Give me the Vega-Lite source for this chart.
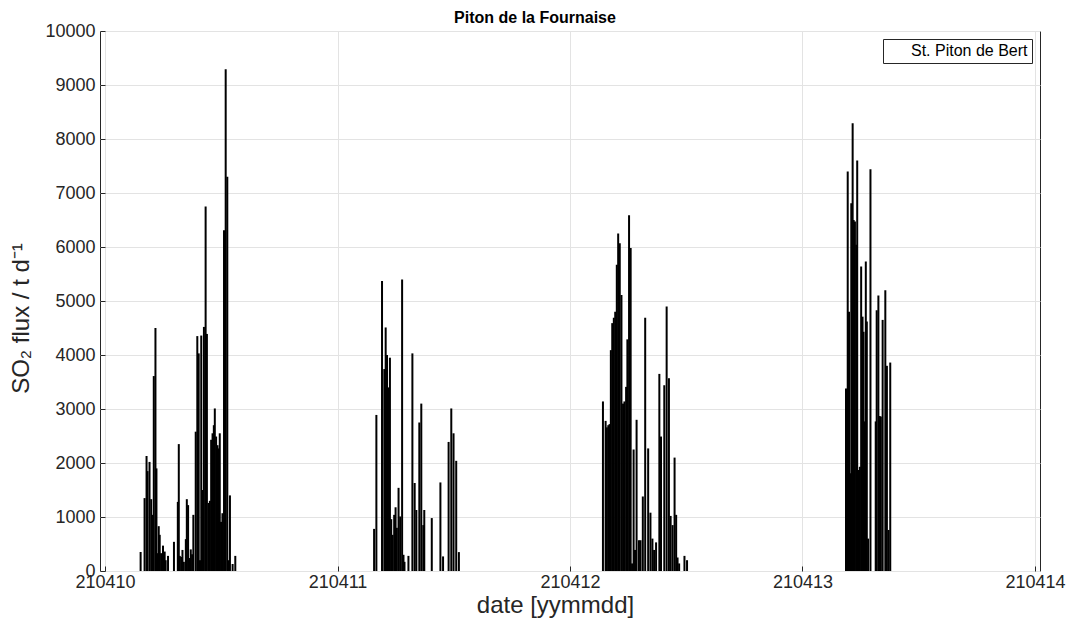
{
  "$schema": "https://vega.github.io/schema/vega-lite/v6.json",
  "width": 940,
  "height": 540,
  "autosize": "none",
  "padding": {"left": 100, "top": 31, "right": 32, "bottom": 52},
  "background": "white",
  "title": {"text": "Piton de la Fournaise", "fontSize": 16, "fontWeight": "bold", "font": "Liberation Sans", "color": "#000000", "offset": -4, "dx": -35},
  "config": {
    "view": {"stroke": "#262626", "strokeWidth": 1},
    "axis": {"labelFont": "Liberation Sans", "titleFont": "Liberation Sans", "labelColor": "#262626", "titleColor": "#262626", "gridColor": "#e3e3e3", "domain": false, "tickColor": "#262626", "titleFontWeight": "normal"}
  },
  "data": {"values": [
    {"date": 210410.1532, "flux": 352, "station": "St. Piton de Bert"},
    {"date": 210410.1702, "flux": 1350, "station": "St. Piton de Bert"},
    {"date": 210410.1787, "flux": 2130, "station": "St. Piton de Bert"},
    {"date": 210410.1830, "flux": 1850, "station": "St. Piton de Bert"},
    {"date": 210410.1915, "flux": 2020, "station": "St. Piton de Bert"},
    {"date": 210410.1987, "flux": 1330, "station": "St. Piton de Bert"},
    {"date": 210410.2043, "flux": 1040, "station": "St. Piton de Bert"},
    {"date": 210410.2098, "flux": 3610, "station": "St. Piton de Bert"},
    {"date": 210410.2170, "flux": 4500, "station": "St. Piton de Bert"},
    {"date": 210410.2213, "flux": 1900, "station": "St. Piton de Bert"},
    {"date": 210410.2255, "flux": 330, "station": "St. Piton de Bert"},
    {"date": 210410.2311, "flux": 830, "station": "St. Piton de Bert"},
    {"date": 210410.2353, "flux": 670, "station": "St. Piton de Bert"},
    {"date": 210410.2413, "flux": 330, "station": "St. Piton de Bert"},
    {"date": 210410.2494, "flux": 470, "station": "St. Piton de Bert"},
    {"date": 210410.2566, "flux": 360, "station": "St. Piton de Bert"},
    {"date": 210410.2609, "flux": 200, "station": "St. Piton de Bert"},
    {"date": 210410.2711, "flux": 280, "station": "St. Piton de Bert"},
    {"date": 210410.2966, "flux": 540, "station": "St. Piton de Bert"},
    {"date": 210410.3132, "flux": 1280, "station": "St. Piton de Bert"},
    {"date": 210410.3174, "flux": 2350, "station": "St. Piton de Bert"},
    {"date": 210410.3217, "flux": 280, "station": "St. Piton de Bert"},
    {"date": 210410.3277, "flux": 260, "station": "St. Piton de Bert"},
    {"date": 210410.3332, "flux": 390, "station": "St. Piton de Bert"},
    {"date": 210410.3391, "flux": 170, "station": "St. Piton de Bert"},
    {"date": 210410.3477, "flux": 590, "station": "St. Piton de Bert"},
    {"date": 210410.3519, "flux": 1330, "station": "St. Piton de Bert"},
    {"date": 210410.3574, "flux": 1220, "station": "St. Piton de Bert"},
    {"date": 210410.3630, "flux": 240, "station": "St. Piton de Bert"},
    {"date": 210410.3689, "flux": 400, "station": "St. Piton de Bert"},
    {"date": 210410.3745, "flux": 310, "station": "St. Piton de Bert"},
    {"date": 210410.3800, "flux": 1040, "station": "St. Piton de Bert"},
    {"date": 210410.3902, "flux": 2580, "station": "St. Piton de Bert"},
    {"date": 210410.3970, "flux": 4350, "station": "St. Piton de Bert"},
    {"date": 210410.4030, "flux": 4030, "station": "St. Piton de Bert"},
    {"date": 210410.4085, "flux": 200, "station": "St. Piton de Bert"},
    {"date": 210410.4140, "flux": 4360, "station": "St. Piton de Bert"},
    {"date": 210410.4213, "flux": 1500, "station": "St. Piton de Bert"},
    {"date": 210410.4255, "flux": 4520, "station": "St. Piton de Bert"},
    {"date": 210410.4328, "flux": 6750, "station": "St. Piton de Bert"},
    {"date": 210410.4383, "flux": 4390, "station": "St. Piton de Bert"},
    {"date": 210410.4455, "flux": 1260, "station": "St. Piton de Bert"},
    {"date": 210410.4511, "flux": 1300, "station": "St. Piton de Bert"},
    {"date": 210410.4566, "flux": 2430, "station": "St. Piton de Bert"},
    {"date": 210410.4626, "flux": 2550, "station": "St. Piton de Bert"},
    {"date": 210410.4681, "flux": 2700, "station": "St. Piton de Bert"},
    {"date": 210410.4723, "flux": 3010, "station": "St. Piton de Bert"},
    {"date": 210410.4779, "flux": 2490, "station": "St. Piton de Bert"},
    {"date": 210410.4838, "flux": 2330, "station": "St. Piton de Bert"},
    {"date": 210410.4881, "flux": 2270, "station": "St. Piton de Bert"},
    {"date": 210410.4936, "flux": 2550, "station": "St. Piton de Bert"},
    {"date": 210410.4991, "flux": 910, "station": "St. Piton de Bert"},
    {"date": 210410.5051, "flux": 1070, "station": "St. Piton de Bert"},
    {"date": 210410.5119, "flux": 6310, "station": "St. Piton de Bert"},
    {"date": 210410.5191, "flux": 9290, "station": "St. Piton de Bert"},
    {"date": 210410.5260, "flux": 7300, "station": "St. Piton de Bert"},
    {"date": 210410.5319, "flux": 200, "station": "St. Piton de Bert"},
    {"date": 210410.5374, "flux": 1400, "station": "St. Piton de Bert"},
    {"date": 210410.5489, "flux": 130, "station": "St. Piton de Bert"},
    {"date": 210410.5604, "flux": 280, "station": "St. Piton de Bert"},
    {"date": 210411.1574, "flux": 780, "station": "St. Piton de Bert"},
    {"date": 210411.1672, "flux": 2890, "station": "St. Piton de Bert"},
    {"date": 210411.1915, "flux": 5370, "station": "St. Piton de Bert"},
    {"date": 210411.2013, "flux": 3740, "station": "St. Piton de Bert"},
    {"date": 210411.2072, "flux": 4510, "station": "St. Piton de Bert"},
    {"date": 210411.2128, "flux": 4000, "station": "St. Piton de Bert"},
    {"date": 210411.2183, "flux": 3400, "station": "St. Piton de Bert"},
    {"date": 210411.2255, "flux": 3950, "station": "St. Piton de Bert"},
    {"date": 210411.2311, "flux": 960, "station": "St. Piton de Bert"},
    {"date": 210411.2370, "flux": 670, "station": "St. Piton de Bert"},
    {"date": 210411.2438, "flux": 1040, "station": "St. Piton de Bert"},
    {"date": 210411.2498, "flux": 1180, "station": "St. Piton de Bert"},
    {"date": 210411.2553, "flux": 800, "station": "St. Piton de Bert"},
    {"date": 210411.2626, "flux": 1540, "station": "St. Piton de Bert"},
    {"date": 210411.2694, "flux": 1010, "station": "St. Piton de Bert"},
    {"date": 210411.2779, "flux": 5400, "station": "St. Piton de Bert"},
    {"date": 210411.2838, "flux": 300, "station": "St. Piton de Bert"},
    {"date": 210411.2881, "flux": 170, "station": "St. Piton de Bert"},
    {"date": 210411.3051, "flux": 280, "station": "St. Piton de Bert"},
    {"date": 210411.3221, "flux": 4030, "station": "St. Piton de Bert"},
    {"date": 210411.3319, "flux": 1630, "station": "St. Piton de Bert"},
    {"date": 210411.3391, "flux": 1130, "station": "St. Piton de Bert"},
    {"date": 210411.3519, "flux": 2750, "station": "St. Piton de Bert"},
    {"date": 210411.3604, "flux": 3100, "station": "St. Piton de Bert"},
    {"date": 210411.3689, "flux": 850, "station": "St. Piton de Bert"},
    {"date": 210411.3732, "flux": 1130, "station": "St. Piton de Bert"},
    {"date": 210411.4055, "flux": 980, "station": "St. Piton de Bert"},
    {"date": 210411.4426, "flux": 1640, "station": "St. Piton de Bert"},
    {"date": 210411.4540, "flux": 270, "station": "St. Piton de Bert"},
    {"date": 210411.4779, "flux": 2390, "station": "St. Piton de Bert"},
    {"date": 210411.4894, "flux": 3010, "station": "St. Piton de Bert"},
    {"date": 210411.4991, "flux": 2550, "station": "St. Piton de Bert"},
    {"date": 210411.5106, "flux": 2040, "station": "St. Piton de Bert"},
    {"date": 210411.5221, "flux": 350, "station": "St. Piton de Bert"},
    {"date": 210412.1417, "flux": 3140, "station": "St. Piton de Bert"},
    {"date": 210412.1532, "flux": 2780, "station": "St. Piton de Bert"},
    {"date": 210412.1587, "flux": 2660, "station": "St. Piton de Bert"},
    {"date": 210412.1647, "flux": 2700, "station": "St. Piton de Bert"},
    {"date": 210412.1702, "flux": 2720, "station": "St. Piton de Bert"},
    {"date": 210412.1757, "flux": 4090, "station": "St. Piton de Bert"},
    {"date": 210412.1817, "flux": 4590, "station": "St. Piton de Bert"},
    {"date": 210412.1885, "flux": 4690, "station": "St. Piton de Bert"},
    {"date": 210412.1945, "flux": 4800, "station": "St. Piton de Bert"},
    {"date": 210412.2013, "flux": 5670, "station": "St. Piton de Bert"},
    {"date": 210412.2072, "flux": 6250, "station": "St. Piton de Bert"},
    {"date": 210412.2140, "flux": 6070, "station": "St. Piton de Bert"},
    {"date": 210412.2213, "flux": 5110, "station": "St. Piton de Bert"},
    {"date": 210412.2281, "flux": 3100, "station": "St. Piton de Bert"},
    {"date": 210412.2340, "flux": 3140, "station": "St. Piton de Bert"},
    {"date": 210412.2413, "flux": 3410, "station": "St. Piton de Bert"},
    {"date": 210412.2468, "flux": 4290, "station": "St. Piton de Bert"},
    {"date": 210412.2540, "flux": 6590, "station": "St. Piton de Bert"},
    {"date": 210412.2609, "flux": 5980, "station": "St. Piton de Bert"},
    {"date": 210412.2668, "flux": 140, "station": "St. Piton de Bert"},
    {"date": 210412.2736, "flux": 2250, "station": "St. Piton de Bert"},
    {"date": 210412.2796, "flux": 390, "station": "St. Piton de Bert"},
    {"date": 210412.2864, "flux": 2800, "station": "St. Piton de Bert"},
    {"date": 210412.2966, "flux": 570, "station": "St. Piton de Bert"},
    {"date": 210412.3034, "flux": 570, "station": "St. Piton de Bert"},
    {"date": 210412.3132, "flux": 1380, "station": "St. Piton de Bert"},
    {"date": 210412.3234, "flux": 4690, "station": "St. Piton de Bert"},
    {"date": 210412.3362, "flux": 2270, "station": "St. Piton de Bert"},
    {"date": 210412.3460, "flux": 1080, "station": "St. Piton de Bert"},
    {"date": 210412.3545, "flux": 600, "station": "St. Piton de Bert"},
    {"date": 210412.3617, "flux": 390, "station": "St. Piton de Bert"},
    {"date": 210412.3702, "flux": 530, "station": "St. Piton de Bert"},
    {"date": 210412.3843, "flux": 3650, "station": "St. Piton de Bert"},
    {"date": 210412.3915, "flux": 2490, "station": "St. Piton de Bert"},
    {"date": 210412.4055, "flux": 3440, "station": "St. Piton de Bert"},
    {"date": 210412.4157, "flux": 4900, "station": "St. Piton de Bert"},
    {"date": 210412.4255, "flux": 3570, "station": "St. Piton de Bert"},
    {"date": 210412.4328, "flux": 1020, "station": "St. Piton de Bert"},
    {"date": 210412.4413, "flux": 850, "station": "St. Piton de Bert"},
    {"date": 210412.4498, "flux": 2100, "station": "St. Piton de Bert"},
    {"date": 210412.4566, "flux": 1040, "station": "St. Piton de Bert"},
    {"date": 210412.4626, "flux": 250, "station": "St. Piton de Bert"},
    {"date": 210412.4694, "flux": 140, "station": "St. Piton de Bert"},
    {"date": 210412.4923, "flux": 280, "station": "St. Piton de Bert"},
    {"date": 210412.5034, "flux": 200, "station": "St. Piton de Bert"},
    {"date": 210413.1872, "flux": 3380, "station": "St. Piton de Bert"},
    {"date": 210413.1945, "flux": 7400, "station": "St. Piton de Bert"},
    {"date": 210413.2000, "flux": 4800, "station": "St. Piton de Bert"},
    {"date": 210413.2055, "flux": 1810, "station": "St. Piton de Bert"},
    {"date": 210413.2098, "flux": 6810, "station": "St. Piton de Bert"},
    {"date": 210413.2157, "flux": 8290, "station": "St. Piton de Bert"},
    {"date": 210413.2200, "flux": 6500, "station": "St. Piton de Bert"},
    {"date": 210413.2255, "flux": 6470, "station": "St. Piton de Bert"},
    {"date": 210413.2311, "flux": 6040, "station": "St. Piton de Bert"},
    {"date": 210413.2353, "flux": 7600, "station": "St. Piton de Bert"},
    {"date": 210413.2413, "flux": 1870, "station": "St. Piton de Bert"},
    {"date": 210413.2468, "flux": 1930, "station": "St. Piton de Bert"},
    {"date": 210413.2523, "flux": 5640, "station": "St. Piton de Bert"},
    {"date": 210413.2583, "flux": 4710, "station": "St. Piton de Bert"},
    {"date": 210413.2626, "flux": 4430, "station": "St. Piton de Bert"},
    {"date": 210413.2668, "flux": 2770, "station": "St. Piton de Bert"},
    {"date": 210413.2723, "flux": 5730, "station": "St. Piton de Bert"},
    {"date": 210413.2766, "flux": 4620, "station": "St. Piton de Bert"},
    {"date": 210413.2821, "flux": 600, "station": "St. Piton de Bert"},
    {"date": 210413.2923, "flux": 7440, "station": "St. Piton de Bert"},
    {"date": 210413.3149, "flux": 2770, "station": "St. Piton de Bert"},
    {"date": 210413.3191, "flux": 4830, "station": "St. Piton de Bert"},
    {"date": 210413.3264, "flux": 5100, "station": "St. Piton de Bert"},
    {"date": 210413.3319, "flux": 2870, "station": "St. Piton de Bert"},
    {"date": 210413.3370, "flux": 2860, "station": "St. Piton de Bert"},
    {"date": 210413.3447, "flux": 4650, "station": "St. Piton de Bert"},
    {"date": 210413.3562, "flux": 5200, "station": "St. Piton de Bert"},
    {"date": 210413.3630, "flux": 3800, "station": "St. Piton de Bert"},
    {"date": 210413.3702, "flux": 760, "station": "St. Piton de Bert"},
    {"date": 210413.3774, "flux": 3860, "station": "St. Piton de Bert"}
  ]},
  "mark": {"type": "bar", "size": 2},
  "encoding": {
    "x": {
      "field": "date", "type": "quantitative",
      "scale": {"domain": [210410, 210414], "nice": false, "zero": false},
      "axis": {"values": [210410, 210411, 210412, 210413, 210414], "format": "d", "title": "date [yymmdd]", "labelFontSize": 18, "titleFontSize": 24, "labelPadding": 7, "titlePadding": 2, "tickSize": -5, "labelFlush": false, "labelOverlap": false, "titleX": 455}
    },
    "y": {
      "field": "flux", "type": "quantitative",
      "scale": {"domain": [0, 10000], "nice": false},
      "axis": {"values": [0, 1000, 2000, 3000, 4000, 5000, 6000, 7000, 8000, 9000, 10000], "format": "d", "title": "SO₂ flux / t d⁻¹", "labelFontSize": 18, "titleFontSize": 24, "labelPadding": 10, "titlePadding": 11, "tickSize": -5, "labelOverlap": false, "titleY": 287}
    },
    "color": {
      "field": "station", "type": "nominal",
      "scale": {"range": ["#000000"]},
      "legend": {"title": null, "orient": "top-right", "offset": 8, "strokeColor": "#262626", "fillColor": "white", "padding": 4, "labelFontSize": 16, "labelFont": "Liberation Sans", "labelColor": "#000000", "symbolOpacity": 0, "symbolSize": 150, "labelOffset": 8}
    }
  }
}
